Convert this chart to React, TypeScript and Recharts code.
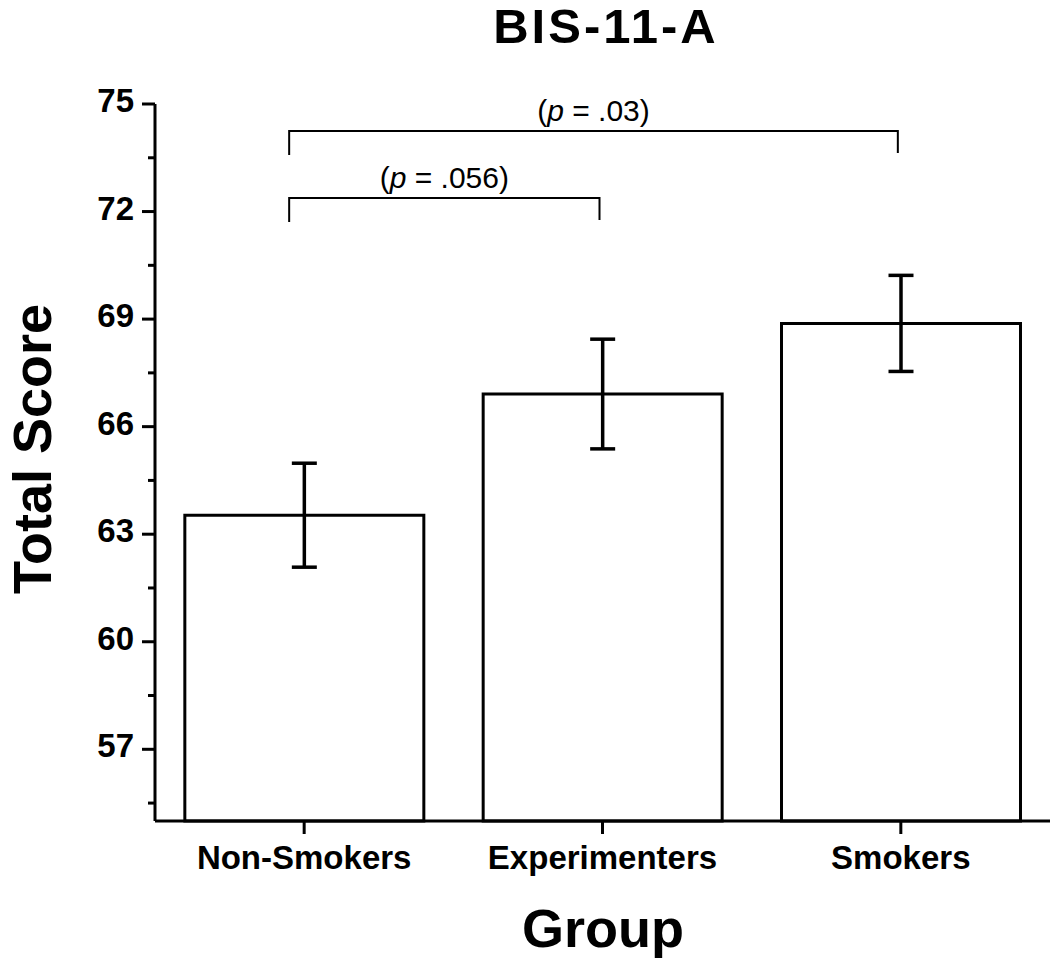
import React from "react";
import { ComposedChart, Bar, ErrorBar, XAxis, YAxis, ReferenceLine } from "recharts";

const groups = ["Non-Smokers", "Experimenters", "Smokers"];
const meanScores = [63.53, 66.91, 68.88];
const semScores = [1.45, 1.53, 1.34];

const majorTicks = [57, 60, 63, 66, 69, 72, 75];
const minorTicks = [55.5, 58.5, 61.5, 64.5, 67.5, 70.5, 73.5];

const bracketFrom = ["Non-Smokers", "Non-Smokers"];
const bracketTo = ["Experimenters", "Smokers"];
const bracketLevel = [72.38, 74.25];
const bracketP = [".056", ".03"];

const FONT = "'Liberation Sans', Arial, sans-serif";
const TICK_SIZE = 13;
const TICK_MARGIN = 8;

const data = groups.map((g, i) => ({ group: g, mean: meanScores[i], err: semScores[i] }));
const yTicks = [...majorTicks, ...minorTicks].sort((a, b) => a - b);

function YTick(props: any) {
  const { x, y, payload } = props;
  const v = payload.value;
  const major = majorTicks.includes(v);
  const ax = x + TICK_SIZE + TICK_MARGIN;
  return (
    <g>
      <line x1={ax - (major ? 13 : 7)} x2={ax} y1={y} y2={y} stroke="#000" strokeWidth={3} />
      {major && (
        <text
          x={ax - 21}
          y={y}
          dy={8}
          textAnchor="end"
          fontFamily={FONT}
          fontWeight="bold"
          fontSize={33}
          fill="#000"
        >
          {v}
        </text>
      )}
    </g>
  );
}

function bracketShape(label: string) {
  return (props: any) => {
    const { x1, y1, x2, y2 } = props;
    const lx = x1 - 15;
    const rx = x2 - 3;
    return (
      <g>
        <path
          d={`M${lx},${y1 + 24} L${lx},${y1} L${rx},${y2} L${rx},${y2 + 22}`}
          fill="none"
          stroke="#000"
          strokeWidth={2}
        />
        <text
          x={(lx + rx) / 2}
          y={y1 - 10}
          textAnchor="middle"
          fontFamily={FONT}
          fontSize={30}
          fill="#000"
        >
          (<tspan fontStyle="italic">p</tspan> = {label})
        </text>
      </g>
    );
  };
}

export default function App() {
  return (
    <div style={{ position: "absolute", left: 0, top: 0, width: 1050, height: 961, background: "#fff" }}>
      <ComposedChart
        width={1050}
        height={961}
        data={data}
        margin={{ top: 104, right: 0, bottom: 0, left: 0 }}
        barCategoryGap="10%"
      >
        <XAxis
          dataKey="group"
          height={140}
          axisLine={{ stroke: "#000", strokeWidth: 3 }}
          tickLine={{ stroke: "#000", strokeWidth: 3 }}
          tickSize={13}
          tickMargin={12}
          tick={{ fontFamily: FONT, fontWeight: "bold", fontSize: 33, fill: "#000" }}
        />
        <YAxis
          type="number"
          domain={[55, 75]}
          ticks={yTicks}
          interval={0}
          width={155}
          axisLine={{ stroke: "#000", strokeWidth: 3 }}
          tickLine={false}
          tickSize={TICK_SIZE}
          tickMargin={TICK_MARGIN}
          tick={<YTick />}
        />
        <Bar dataKey="mean" fill="#fff" stroke="#000" strokeWidth={3} isAnimationActive={false}>
          <ErrorBar dataKey="err" width={12.5} stroke="#000" strokeWidth={3.5} />
        </Bar>
        {bracketLevel.map((lvl, i) => (
          <ReferenceLine
            key={i}
            segment={[
              { x: bracketFrom[i], y: lvl },
              { x: bracketTo[i], y: lvl },
            ]}
            shape={bracketShape(bracketP[i])}
          />
        ))}
      </ComposedChart>
      <svg
        width={1050}
        height={961}
        style={{ position: "absolute", left: 0, top: 0, pointerEvents: "none" }}
      >
        <text x={606} y={43} textAnchor="middle" fontFamily={FONT} fontWeight="bold" fontSize={49} letterSpacing={3} fill="#000">
          BIS-11-A
        </text>
        <text
          x={51}
          y={449}
          transform="rotate(-90 51 449)"
          textAnchor="middle"
          fontFamily={FONT}
          fontWeight="bold"
          fontSize={54}
          fill="#000"
        >
          Total Score
        </text>
        <text x={603} y={947} textAnchor="middle" fontFamily={FONT} fontWeight="bold" fontSize={54} fill="#000">
          Group
        </text>
      </svg>
    </div>
  );
}
